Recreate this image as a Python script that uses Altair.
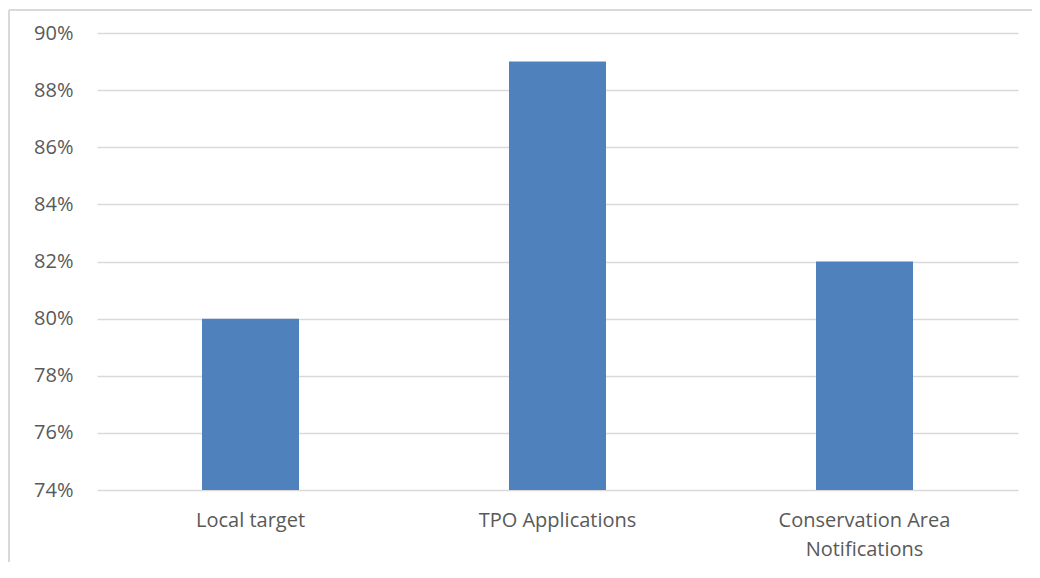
import altair as alt
import pandas as pd

categories = ["Local target", "TPO Applications", "Conservation Area Notifications"]
values = [0.80, 0.89, 0.82]
y_min = 0.74
y_max = 0.90
y_ticks = [0.74, 0.76, 0.78, 0.80, 0.82, 0.84, 0.86, 0.88, 0.90]

df = pd.DataFrame({"category": categories, "value": values})

W, H = 921, 457
PAD = {"left": 89, "top": 25, "right": 14, "bottom": 72}
FONT = "Open Sans"
FS = 20

bars = alt.Chart(df).mark_bar(color="#4F81BD").encode(
    x=alt.X("category:N", sort=categories, title=None,
            scale=alt.Scale(paddingInner=0.684, paddingOuter=0.342),
            axis=alt.Axis(labelAngle=0, domain=False, ticks=False, labelPadding=20,
                          labelFontSize=FS, labelColor="#595959", labelFont=FONT,
                          labelLineHeight=29, labelBaseline="top",
                          labelExpr="datum.label == 'Conservation Area Notifications' ? ['Conservation Area', 'Notifications'] : datum.label")),
    y=alt.Y("value:Q", title=None,
            scale=alt.Scale(domain=[y_min, y_max], zero=False, nice=False),
            axis=alt.Axis(values=y_ticks, format=".0%", domain=False, ticks=False,
                          labelPadding=24, labelFontSize=FS, labelColor="#595959",
                          labelFont=FONT, gridColor="#D9D9D9", gridWidth=1.3)),
    y2=alt.datum(y_min),
)

frame_top = alt.Chart(df).mark_rule(stroke="#D9D9D9", strokeWidth=2).encode(
    x=alt.value(-88), x2=alt.value(W + PAD["right"]), y=alt.value(-23)
)
frame_left = alt.Chart(df).mark_rule(stroke="#D9D9D9", strokeWidth=2).encode(
    x=alt.value(-88), y=alt.value(-23), y2=alt.value(H + PAD["bottom"])
)

chart = alt.layer(frame_top, frame_left, bars).properties(
    width=W, height=H,
    autosize=alt.AutoSizeParams(type="none"),
    padding=PAD,
).configure(background="white").configure_view(stroke=None)

chart.save("out.html", embed_options={"renderer": "svg", "actions": False})
